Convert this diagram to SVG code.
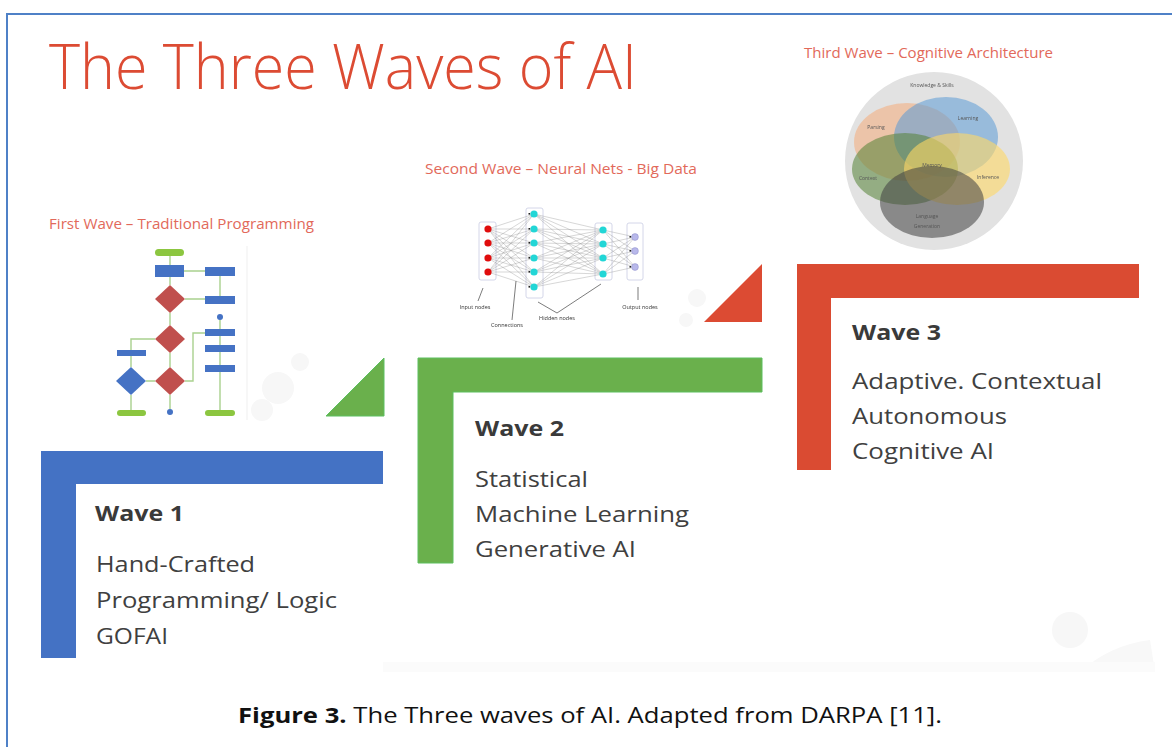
<svg xmlns="http://www.w3.org/2000/svg" width="1172" height="747" viewBox="0 0 1172 747">
  <style>
    .body { font-family: "Open Sans", "Liberation Sans", sans-serif; fill: #404040; font-size: 22px; }
    .head { font-family: "Open Sans", "Liberation Sans", sans-serif; fill: #3a3a3a; font-size: 21px; font-weight: bold; }
    .sub { font-family: "Open Sans", "Liberation Sans", sans-serif; fill: #e2695a; font-size: 15px; }
    .tiny { font-family: "Open Sans", "Liberation Sans", sans-serif; fill: #555555; font-size: 5px; text-anchor: middle; }
    .nn { font-family: "Open Sans", "Liberation Sans", sans-serif; fill: #333333; font-size: 5.5px; text-anchor: middle; }
    .cap { font-family: "Open Sans", "Liberation Sans", sans-serif; fill: #111111; font-size: 22px; }
    .fbox { fill: #4472c4; }
    .fdia { fill: #c0504d; }
    .fend { fill: #8cc63f; }
    .flink { fill: none; stroke: #a9d18e; stroke-width: 1.4; }
    .panel { fill: none; stroke: #c9cce3; stroke-width: 0.8; }
    .wire { fill: none; stroke: #8a8a8a; stroke-width: 0.35; }
    .ptr { fill: none; stroke: #444444; stroke-width: 0.7; }
    .bubble { fill: #f7f7f7; }
  </style>
  <defs>
    <filter id="soft" x="-5%" y="-5%" width="110%" height="110%">
      <feGaussianBlur stdDeviation="0.55"/>
    </filter>
  </defs>

  <rect width="1172" height="747" fill="#ffffff"/>

  <!-- outer frame, open at right and bottom -->
  <rect x="7" y="14" width="1200" height="800" fill="none" stroke="#4f81c7" stroke-width="2"/>

  <!-- faint slide backdrop ornaments -->
  <g id="backdrop">
    <circle class="bubble" cx="278" cy="388" r="16"/>
    <circle class="bubble" cx="300" cy="362" r="9"/>
    <circle class="bubble" cx="262" cy="410" r="11"/>
    <circle class="bubble" cx="697" cy="298" r="9"/>
    <circle class="bubble" cx="686" cy="320" r="7"/>
    <circle class="bubble" cx="1070" cy="630" r="18"/>
    <path d="M1080 672 Q1110 645 1150 640 L1155 672 Z" fill="#f8f8f8"/>
    <rect x="383" y="662" width="772" height="10" fill="#fbfbfb"/>
  </g>

  <!-- title -->
  <g id="title">
    <text x="49" y="89" font-family="'Open Sans', 'Liberation Sans', sans-serif" font-size="62" font-weight="300" fill="#dc4b33" textLength="588" lengthAdjust="spacingAndGlyphs">The Three Waves of AI</text>
  </g>

  <!-- first wave: flowchart thumbnail -->
  <g id="first-wave">
    <text class="sub" x="49" y="229" textLength="265" lengthAdjust="spacingAndGlyphs">First Wave – Traditional Programming</text>
    <g filter="url(#soft)">
      <line x1="247" y1="246" x2="247" y2="420" stroke="#efefef" stroke-width="1"/>
      <g id="flowchart-links">
        <path class="flink" d="M170 256 V265 M170 277 V285 M170 313 V325 M170 353 V367 M170 395 V409"/>
        <path class="flink" d="M184 271 H205 M185 299 H205 M220 276 V297 M220 320 V329 M220 336 V410"/>
        <path class="flink" d="M155 339 H131 V350 M131 356 V367 M131 395 V410 M146 381 H155 M185 381 H193 V333 H205"/>
      </g>
      <g id="flowchart-shapes">
        <rect class="fend" x="155" y="249" width="29" height="7" rx="3.5"/>
        <rect class="fbox" x="155" y="265" width="29" height="12"/>
        <rect class="fbox" x="205" y="267" width="30" height="9"/>
        <polygon class="fdia" points="170,285 185,299 170,313 155,299"/>
        <rect class="fbox" x="205" y="296" width="30" height="8"/>
        <circle class="fbox" cx="220" cy="317" r="3"/>
        <polygon class="fdia" points="170,325 185,339 170,353 155,339"/>
        <rect class="fbox" x="205" y="329" width="30" height="7"/>
        <rect class="fbox" x="205" y="345" width="30" height="7"/>
        <rect class="fbox" x="205" y="365" width="30" height="7"/>
        <rect class="fbox" x="117" y="350" width="29" height="6"/>
        <polygon class="fbox" points="131,367 146,381 131,395 116,381"/>
        <polygon class="fdia" points="170,367 185,381 170,395 155,381"/>
        <rect class="fend" x="117" y="410" width="29" height="6" rx="3"/>
        <circle class="fbox" cx="170" cy="412" r="3"/>
        <rect class="fend" x="205" y="410" width="30" height="6" rx="3"/>
      </g>
    </g>
  </g>

  <!-- second wave: neural network thumbnail -->
  <g id="second-wave">
    <text class="sub" x="425" y="174" textLength="272" lengthAdjust="spacingAndGlyphs">Second Wave – Neural Nets - Big Data</text>
    <g filter="url(#soft)">
      <rect class="panel" x="479" y="222" width="17" height="58" rx="2"/>
      <rect class="panel" x="526" y="208" width="17" height="90" rx="2"/>
      <rect class="panel" x="595" y="223" width="17" height="57" rx="2"/>
      <rect class="panel" x="627" y="223" width="16" height="57" rx="2"/>
      <g id="nn-connections">
        <path class="wire" d="M488 229L534 214M488 229L534 229M488 229L534 243M488 229L534 258M488 229L534 272M488 229L534 287
          M488 243L534 214M488 243L534 229M488 243L534 243M488 243L534 258M488 243L534 272M488 243L534 287
          M488 258L534 214M488 258L534 229M488 258L534 243M488 258L534 258M488 258L534 272M488 258L534 287
          M488 272L534 214M488 272L534 229M488 272L534 243M488 272L534 258M488 272L534 272M488 272L534 287"/>
        <path class="wire" d="M534 214L603 230M534 214L603 244M534 214L603 258M534 214L603 274
          M534 229L603 230M534 229L603 244M534 229L603 258M534 229L603 274
          M534 243L603 230M534 243L603 244M534 243L603 258M534 243L603 274
          M534 258L603 230M534 258L603 244M534 258L603 258M534 258L603 274
          M534 272L603 230M534 272L603 244M534 272L603 258M534 272L603 274
          M534 287L603 230M534 287L603 244M534 287L603 258M534 287L603 274"/>
        <path class="wire" d="M603 230L635 237M603 230L635 251M603 230L635 267
          M603 244L635 237M603 244L635 251M603 244L635 267
          M603 258L635 237M603 258L635 251M603 258L635 267
          M603 274L635 237M603 274L635 251M603 274L635 267"/>
      </g>
      <g id="nn-nodes">
        <g fill="#e01010">
          <circle cx="488" cy="229" r="3.6"/><circle cx="488" cy="243" r="3.6"/>
          <circle cx="488" cy="258" r="3.6"/><circle cx="488" cy="272" r="3.6"/>
        </g>
        <g fill="#22d6d6">
          <circle cx="534" cy="214" r="3.6"/><circle cx="534" cy="229" r="3.6"/>
          <circle cx="534" cy="243" r="3.6"/><circle cx="534" cy="258" r="3.6"/>
          <circle cx="534" cy="272" r="3.6"/><circle cx="534" cy="287" r="3.6"/>
          <circle cx="603" cy="230" r="3.6"/><circle cx="603" cy="244" r="3.6"/>
          <circle cx="603" cy="258" r="3.6"/><circle cx="603" cy="274" r="3.6"/>
        </g>
        <g fill="#b8b8ea" stroke="#8c8cc8" stroke-width="0.5">
          <circle cx="635" cy="237" r="3.4"/><circle cx="635" cy="251" r="3.4"/>
          <circle cx="635" cy="267" r="3.4"/>
        </g>
        <g fill="#222222">
          <rect x="528.5" y="213" width="1.6" height="1.6"/><rect x="528.5" y="228" width="1.6" height="1.6"/>
          <rect x="528.5" y="242" width="1.6" height="1.6"/><rect x="528.5" y="257" width="1.6" height="1.6"/>
          <rect x="528.5" y="271" width="1.6" height="1.6"/><rect x="528.5" y="286" width="1.6" height="1.6"/>
          <rect x="629.5" y="236" width="1.6" height="1.6"/><rect x="629.5" y="250" width="1.6" height="1.6"/>
          <rect x="629.5" y="266" width="1.6" height="1.6"/>
        </g>
      </g>
      <g id="nn-pointers">
        <path class="ptr" d="M478 301 L483 288 M512 320 L516 281 M557 313 L538 302 M557 313 L601 284 M638 300 L638 287"/>
      </g>
      <text class="nn" x="475" y="309">Input nodes</text>
      <text class="nn" x="507" y="327">Connections</text>
      <text class="nn" x="557" y="320">Hidden nodes</text>
      <text class="nn" x="640" y="309">Output nodes</text>
    </g>
  </g>

  <!-- third wave: cognitive architecture thumbnail -->
  <g id="third-wave">
    <text class="sub" x="804" y="58" textLength="249" lengthAdjust="spacingAndGlyphs">Third Wave – Cognitive Architecture</text>
    <g filter="url(#soft)">
      <circle cx="934" cy="161" r="89" fill="#e2e2e2"/>
      <ellipse cx="907" cy="142" rx="53" ry="39" fill="#f4b183" opacity="0.6"/>
      <ellipse cx="946" cy="137" rx="52" ry="40" fill="#5b9bd5" opacity="0.55"/>
      <ellipse cx="905" cy="169" rx="53" ry="36" fill="#548235" opacity="0.55"/>
      <ellipse cx="957" cy="169" rx="53" ry="36" fill="#ffd966" opacity="0.6"/>
      <ellipse cx="932" cy="202" rx="52" ry="36" fill="#404040" opacity="0.55"/>
      <text class="tiny" x="932" y="87">Knowledge &amp; Skills</text>
      <text class="tiny" x="876" y="129">Parsing</text>
      <text class="tiny" x="968" y="120">Learning</text>
      <text class="tiny" x="932" y="167">Memory</text>
      <text class="tiny" x="868" y="180">Context</text>
      <text class="tiny" x="988" y="179">Inference</text>
      <text class="tiny" x="927" y="218">Language</text>
      <text class="tiny" x="927" y="228">Generation</text>
    </g>
  </g>

  <!-- step triangles between the waves -->
  <polygon id="step-green" points="326,416 384,358 384,416" fill="#6ab04c" stroke="#5cc060" stroke-width="1"/>
  <polygon id="step-red" points="704,322 762,264 762,322" fill="#dc4b33"/>

  <!-- wave 1 -->
  <g id="wave1">
    <path d="M41 451 H383 V484 H76 V658 H41 Z" fill="#4472c4"/>
    <text class="head" x="95" y="521" textLength="89" lengthAdjust="spacingAndGlyphs">Wave 1</text>
    <text class="body" x="96" y="572" textLength="159" lengthAdjust="spacingAndGlyphs">Hand-Crafted</text>
    <text class="body" x="96" y="608" textLength="241" lengthAdjust="spacingAndGlyphs">Programming/ Logic</text>
    <text class="body" x="96" y="644" textLength="72" lengthAdjust="spacingAndGlyphs">GOFAI</text>
  </g>

  <!-- wave 2 -->
  <g id="wave2">
    <path d="M418 358 H762 V392 H453 V563 H418 Z" fill="#6ab04c" stroke="#5cbf5f" stroke-width="1"/>
    <text class="head" x="475" y="436" textLength="89" lengthAdjust="spacingAndGlyphs">Wave 2</text>
    <text class="body" x="475" y="487" textLength="113" lengthAdjust="spacingAndGlyphs">Statistical</text>
    <text class="body" x="475" y="522" textLength="214" lengthAdjust="spacingAndGlyphs">Machine Learning</text>
    <text class="body" x="475" y="557" textLength="161" lengthAdjust="spacingAndGlyphs">Generative AI</text>
  </g>

  <!-- wave 3 -->
  <g id="wave3">
    <path d="M797 264 H1139 V298 H831 V470 H797 Z" fill="#da4b32"/>
    <text class="head" x="852" y="340" textLength="89" lengthAdjust="spacingAndGlyphs">Wave 3</text>
    <text class="body" x="852" y="389" textLength="250" lengthAdjust="spacingAndGlyphs">Adaptive. Contextual</text>
    <text class="body" x="852" y="424" textLength="155" lengthAdjust="spacingAndGlyphs">Autonomous</text>
    <text class="body" x="852" y="459" textLength="142" lengthAdjust="spacingAndGlyphs">Cognitive AI</text>
  </g>

  <!-- caption -->
  <g id="caption">
    <text class="cap" x="238" y="723" textLength="704" lengthAdjust="spacingAndGlyphs"><tspan font-weight="bold">Figure 3.</tspan> The Three waves of AI. Adapted from DARPA [11].</text>
  </g>
</svg>
